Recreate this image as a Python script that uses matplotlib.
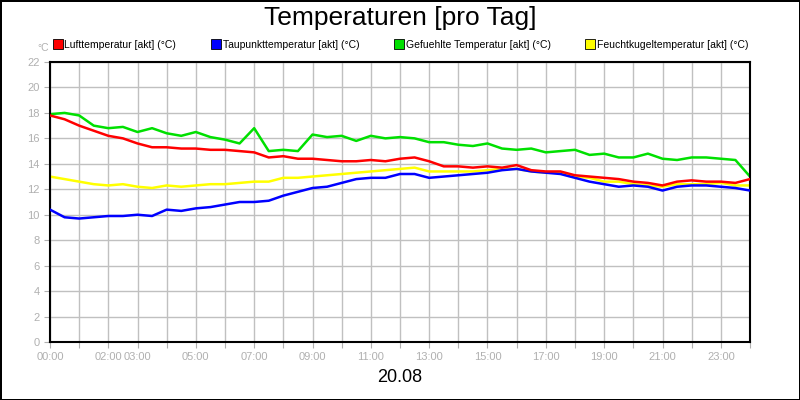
import numpy as np
import matplotlib.pyplot as plt
from matplotlib.lines import Line2D

plt.rcParams["font.family"] = "Liberation Sans"

hours = np.arange(0, 24.5, 0.5)
luft = [17.8, 17.5, 17.0, 16.6, 16.2, 16.0, 15.6, 15.3, 15.3, 15.2, 15.2, 15.1, 15.1, 15.0, 14.9, 14.5,
        14.6, 14.4, 14.4, 14.3, 14.2, 14.2, 14.3, 14.2, 14.4, 14.5, 14.2, 13.8, 13.8, 13.7, 13.8, 13.7,
        13.9, 13.5, 13.4, 13.4, 13.1, 13.0, 12.9, 12.8, 12.6, 12.5, 12.3, 12.6, 12.7, 12.6, 12.6, 12.5, 12.8]
taupunkt = [10.4, 9.8, 9.7, 9.8, 9.9, 9.9, 10.0, 9.9, 10.4, 10.3, 10.5, 10.6, 10.8, 11.0, 11.0, 11.1,
            11.5, 11.8, 12.1, 12.2, 12.5, 12.8, 12.9, 12.9, 13.2, 13.2, 12.9, 13.0, 13.1, 13.2, 13.3, 13.5,
            13.6, 13.4, 13.3, 13.2, 12.9, 12.6, 12.4, 12.2, 12.3, 12.2, 11.9, 12.2, 12.3, 12.3, 12.2, 12.1, 11.9]
gefuehlt = [17.9, 18.0, 17.8, 17.0, 16.8, 16.9, 16.5, 16.8, 16.4, 16.2, 16.5, 16.1, 15.9, 15.6, 16.8, 15.0,
            15.1, 15.0, 16.3, 16.1, 16.2, 15.8, 16.2, 16.0, 16.1, 16.0, 15.7, 15.7, 15.5, 15.4, 15.6, 15.2,
            15.1, 15.2, 14.9, 15.0, 15.1, 14.7, 14.8, 14.5, 14.5, 14.8, 14.4, 14.3, 14.5, 14.5, 14.4, 14.3, 13.0]
feucht = [13.0, 12.8, 12.6, 12.4, 12.3, 12.4, 12.2, 12.1, 12.3, 12.2, 12.3, 12.4, 12.4, 12.5, 12.6, 12.6,
          12.9, 12.9, 13.0, 13.1, 13.2, 13.3, 13.4, 13.5, 13.6, 13.7, 13.4, 13.4, 13.4, 13.4, 13.5, 13.6,
          13.6, 13.4, 13.3, 13.3, 13.0, 12.9, 12.6, 12.6, 12.4, 12.3, 12.2, 12.4, 12.4, 12.4, 12.5, 12.3, 12.3]

names = ["Lufttemperatur [akt] (°C)", "Taupunkttemperatur [akt] (°C)",
         "Gefuehlte Temperatur [akt] (°C)", "Feuchtkugeltemperatur [akt] (°C)"]
colors = ["#ff0000", "#0000ff", "#00e000", "#ffff00"]
tick_hours = [0, 2, 3, 5, 7, 9, 11, 13, 15, 17, 19, 21, 23]

fig = plt.figure(figsize=(8, 4), dpi=100)
fig.patch.set_edgecolor("black")
fig.patch.set_linewidth(2)
ax = fig.add_axes([0.0625, 0.145, 0.875, 0.7])

series = [luft, taupunkt, gefuehlt, feucht]
for s, c, z in zip(series, colors, [4, 3, 2, 1]):
    ax.plot(hours, s, color=c, lw=1.8, zorder=z)

ax.set_xlim(0, 24)
ax.set_ylim(0, 22)
ax.set_yticks(range(0, 23, 2))
ax.set_xticks(range(0, 25))
ax.set_xticklabels(["%02d:00" % h if h in tick_hours else "" for h in range(25)])
ax.grid(True, color="#c0c0c0", lw=1)
ax.set_axisbelow(True)
ax.tick_params(colors="#b0b0b0", labelsize=8, length=4, labelcolor="#b0b0b0")
for sp in ax.spines.values():
    sp.set_color("black")
    sp.set_linewidth(1.5)

fig.text(0.5, 0.955, "Temperaturen [pro Tag]", ha="center", va="center", fontsize=19)
fig.text(0.5, 0.055, "20.08", ha="center", va="center", fontsize=13)
fig.text(0.047, 0.88, "°C", ha="left", va="center", fontsize=7.5, color="#b0b0b0")

handles = [Line2D([], [], marker="s", ls="", markersize=6.5, markerfacecolor=c,
                  markeredgecolor="black", markeredgewidth=0.6) for c in colors]
fig.legend(handles, names, loc="center", bbox_to_anchor=(0.5, 0.888), ncol=4, frameon=False,
           fontsize=7.5, handletextpad=0.05, columnspacing=3.2, handlelength=1.2)

fig.savefig("out.png", dpi=100)
